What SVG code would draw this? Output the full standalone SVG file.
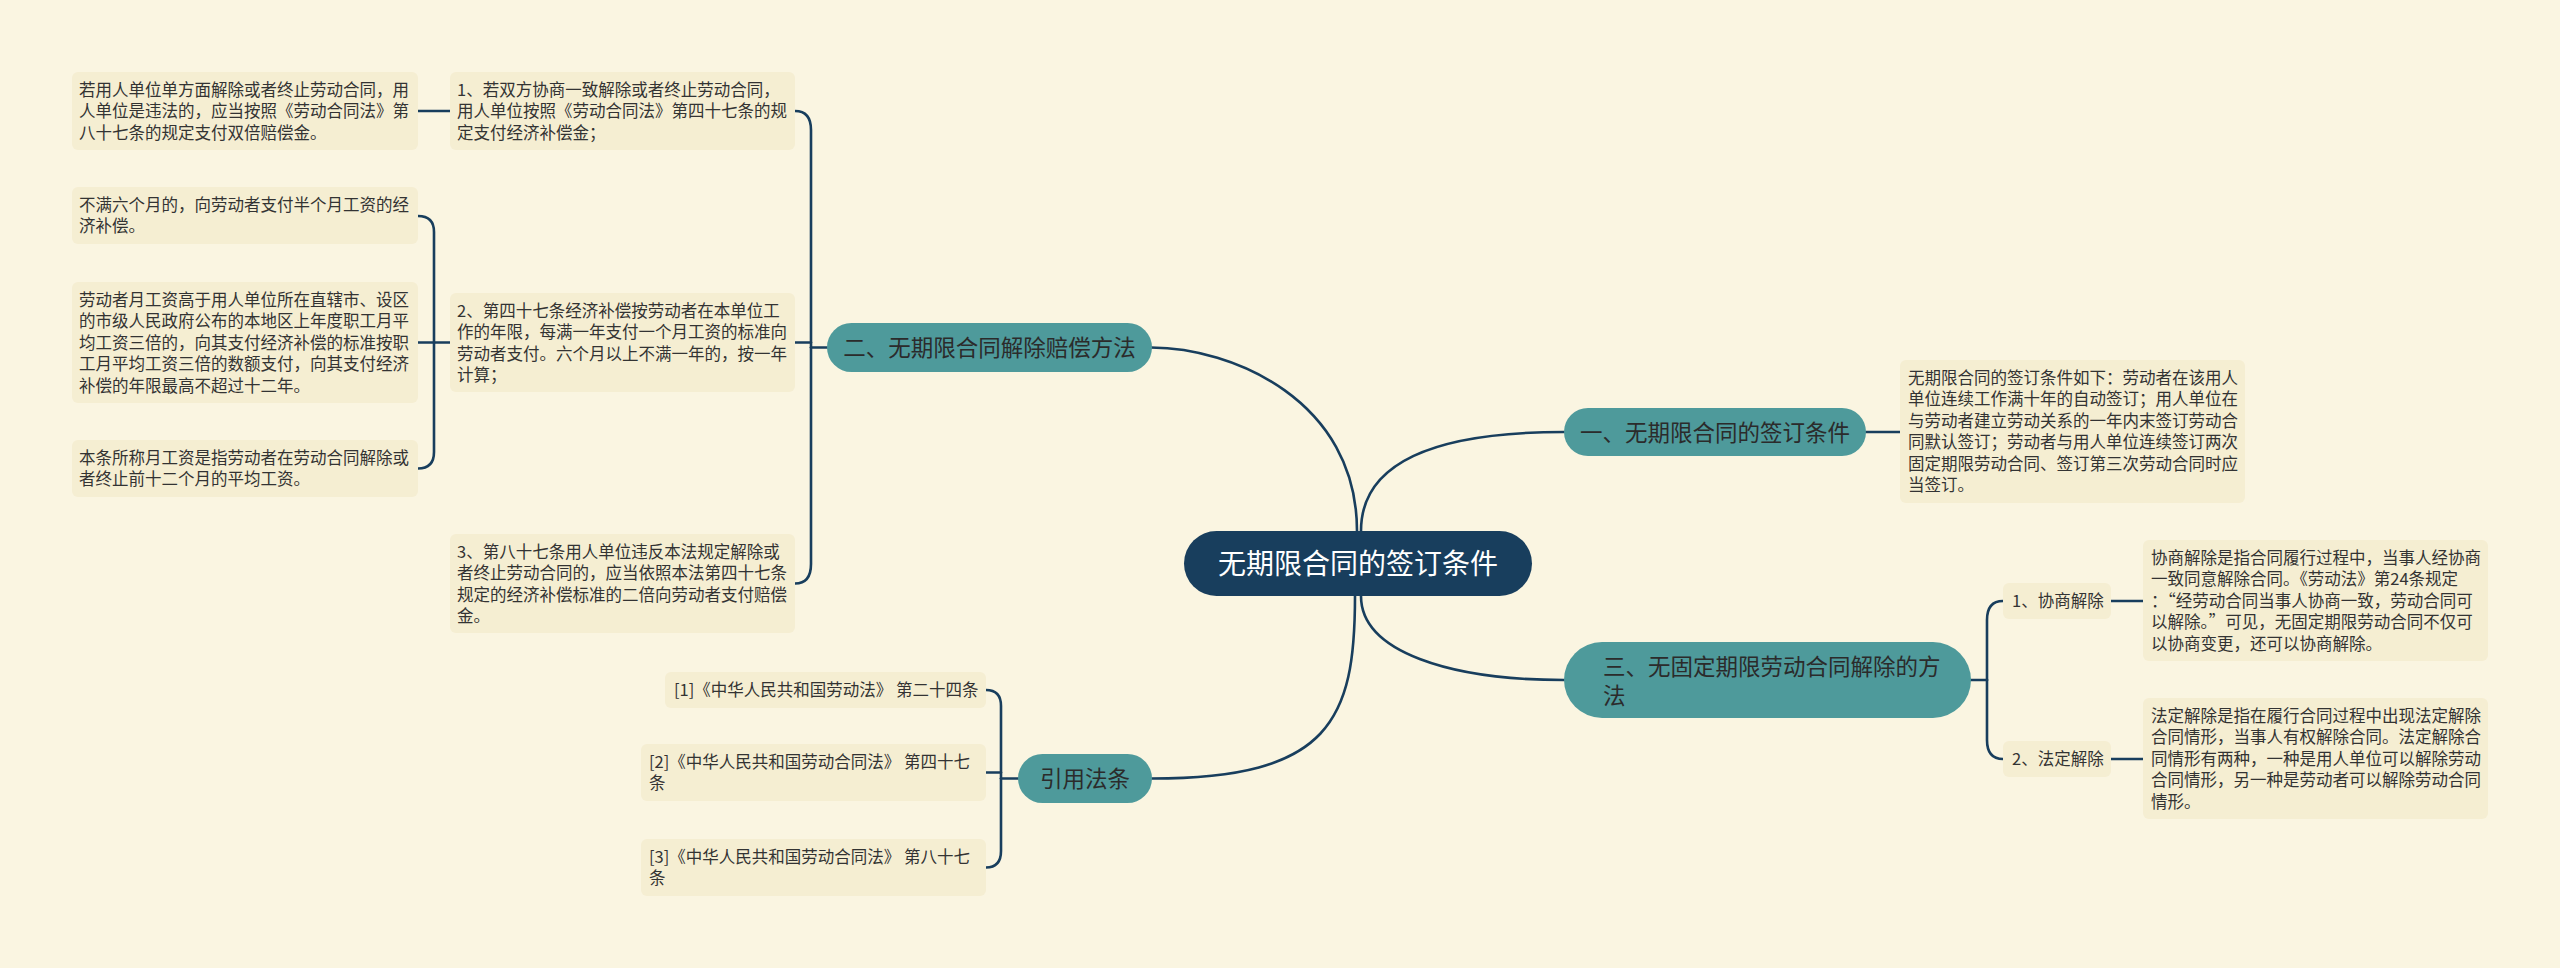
<svg xmlns="http://www.w3.org/2000/svg" width="2560" height="968" viewBox="0 0 2560 968">
<style>
.bg{fill:#faf5e1}
.leaf{fill:#f5eed2}
.br{fill:#4e9a9b}
.root{fill:#183e5d}
.lt{font-family:"Noto Sans CJK SC","Noto Sans",sans-serif;font-size:16.5px;fill:#333333}
.bt{font-family:"Noto Sans CJK SC","Noto Sans",sans-serif;font-size:22.5px;fill:#2b2b2b}
.rt{font-family:"Noto Sans CJK SC","Noto Sans",sans-serif;font-size:28px;fill:#ffffff}
.ln{fill:none;stroke:#183e5d;stroke-width:2.6;stroke-linecap:round}
</style>
<rect class="bg" x="0" y="0" width="2560" height="968"/>
<g id="connectors">
<path class="ln" d="M1151,347.5 C1232,347.5 1357,400 1357,531"/>
<path class="ln" d="M1564,432 C1440,432 1361,460 1361,531"/>
<path class="ln" d="M1361,596 C1361,652 1450,680 1564,680"/>
<path class="ln" d="M1355,596 C1355,720 1330,778.5 1152,778.5"/>
<path class="ln" d="M827,347.5 L811,347.5"/>
<path class="ln" d="M795,111 Q811,111 811,130 L811,347.5"/>
<path class="ln" d="M795,342.5 L811,342.5"/>
<path class="ln" d="M795,583.5 Q811,583.5 811,564 L811,347.5"/>
<path class="ln" d="M450,342.5 L434,342.5"/>
<path class="ln" d="M418,216 Q434,216 434,232 L434,342.5"/>
<path class="ln" d="M418,342.5 L434,342.5"/>
<path class="ln" d="M418,468.5 Q434,468.5 434,452 L434,342.5"/>
<path class="ln" d="M418,111 L450,111"/>
<path class="ln" d="M1018,778.5 L1001,778.5"/>
<path class="ln" d="M986,690 Q1001,690 1001,706 L1001,778.5"/>
<path class="ln" d="M986,772.5 L1001,772.5"/>
<path class="ln" d="M986,867.5 Q1001,867.5 1001,851 L1001,778.5"/>
<path class="ln" d="M1971,680 L1987,680"/>
<path class="ln" d="M2003,601 Q1987,601 1987,620 L1987,680"/>
<path class="ln" d="M2003,759 Q1987,759 1987,740 L1987,680"/>
<path class="ln" d="M1866,432 L1900,432"/>
<path class="ln" d="M2111,601 L2143,601"/>
<path class="ln" d="M2111,759 L2143,759"/>
</g>
<g id="root">
<rect class="root" x="1184" y="531" width="348" height="65" rx="32.5"/>
<text class="rt" x="1358" y="573.5" text-anchor="middle">无期限合同的签订条件</text>
</g>
<g id="b1">
<rect class="br" x="1564" y="408" width="302" height="48" rx="24"/>
<text class="bt" x="1715" y="440.5" text-anchor="middle">一、无期限合同的签订条件</text>
</g>
<g id="b2">
<rect class="br" x="827" y="323" width="325" height="49" rx="24.5"/>
<text class="bt" x="989.5" y="356" text-anchor="middle">二、无期限合同解除赔偿方法</text>
</g>
<g id="b3">
<rect class="br" x="1564" y="642" width="407" height="76" rx="38"/>
<text class="bt" x="1603" y="675">三、无固定期限劳动合同解除的方</text>
<text class="bt" x="1603" y="703.5">法</text>
</g>
<g id="b4">
<rect class="br" x="1018" y="754" width="134" height="49" rx="24.5"/>
<text class="bt" x="1085" y="787" text-anchor="middle">引用法条</text>
</g>
<g id="d1">
<rect class="leaf" x="1900" y="360" width="345" height="143" rx="6"/>
<text class="lt" x="1908" y="383.75">无期限合同的签订条件如下：劳动者在该用人</text>
<text class="lt" x="1908" y="405.25">单位连续工作满十年的自动签订；用人单位在</text>
<text class="lt" x="1908" y="426.75">与劳动者建立劳动关系的一年内末签订劳动合</text>
<text class="lt" x="1908" y="448.25">同默认签订；劳动者与用人单位连续签订两次</text>
<text class="lt" x="1908" y="469.75">固定期限劳动合同、签订第三次劳动合同时应</text>
<text class="lt" x="1908" y="491.25">当签订。</text>
</g>
<g id="m1">
<rect class="leaf" x="450" y="72" width="345" height="78" rx="6"/>
<text class="lt" x="457" y="95.75">1、若双方协商一致解除或者终止劳动合同，</text>
<text class="lt" x="457" y="117.25">用人单位按照《劳动合同法》第四十七条的规</text>
<text class="lt" x="457" y="138.75">定支付经济补偿金；</text>
</g>
<g id="l1">
<rect class="leaf" x="72" y="72" width="346" height="78" rx="6"/>
<text class="lt" x="79" y="95.75">若用人单位单方面解除或者终止劳动合同，用</text>
<text class="lt" x="79" y="117.25">人单位是违法的，应当按照《劳动合同法》第</text>
<text class="lt" x="79" y="138.75">八十七条的规定支付双倍赔偿金。</text>
</g>
<g id="m2">
<rect class="leaf" x="450" y="293" width="345" height="99" rx="6"/>
<text class="lt" x="457" y="316.75">2、第四十七条经济补偿按劳动者在本单位工</text>
<text class="lt" x="457" y="338.25">作的年限，每满一年支付一个月工资的标准向</text>
<text class="lt" x="457" y="359.75">劳动者支付。六个月以上不满一年的，按一年</text>
<text class="lt" x="457" y="381.25">计算；</text>
</g>
<g id="l2">
<rect class="leaf" x="72" y="187" width="346" height="57" rx="6"/>
<text class="lt" x="79" y="210.75">不满六个月的，向劳动者支付半个月工资的经</text>
<text class="lt" x="79" y="232.25">济补偿。</text>
</g>
<g id="l3">
<rect class="leaf" x="72" y="282" width="346" height="121" rx="6"/>
<text class="lt" x="79" y="305.75">劳动者月工资高于用人单位所在直辖市、设区</text>
<text class="lt" x="79" y="327.25">的市级人民政府公布的本地区上年度职工月平</text>
<text class="lt" x="79" y="348.75">均工资三倍的，向其支付经济补偿的标准按职</text>
<text class="lt" x="79" y="370.25">工月平均工资三倍的数额支付，向其支付经济</text>
<text class="lt" x="79" y="391.75">补偿的年限最高不超过十二年。</text>
</g>
<g id="l4">
<rect class="leaf" x="72" y="440" width="346" height="57" rx="6"/>
<text class="lt" x="79" y="463.75">本条所称月工资是指劳动者在劳动合同解除或</text>
<text class="lt" x="79" y="485.25">者终止前十二个月的平均工资。</text>
</g>
<g id="m3">
<rect class="leaf" x="450" y="534" width="345" height="99" rx="6"/>
<text class="lt" x="457" y="557.75">3、第八十七条用人单位违反本法规定解除或</text>
<text class="lt" x="457" y="579.25">者终止劳动合同的，应当依照本法第四十七条</text>
<text class="lt" x="457" y="600.75">规定的经济补偿标准的二倍向劳动者支付赔偿</text>
<text class="lt" x="457" y="622.25">金。</text>
</g>
<g id="r1">
<rect class="leaf" x="665" y="672" width="321" height="36" rx="6"/>
<text class="lt" x="674" y="695.75">[1]《中华人民共和国劳动法》 第二十四条</text>
</g>
<g id="r2">
<rect class="leaf" x="641" y="744" width="345" height="57" rx="6"/>
<text class="lt" x="649" y="767.75">[2]《中华人民共和国劳动合同法》 第四十七</text>
<text class="lt" x="649" y="789.25">条</text>
</g>
<g id="r3">
<rect class="leaf" x="641" y="839" width="345" height="57" rx="6"/>
<text class="lt" x="649" y="862.75">[3]《中华人民共和国劳动合同法》 第八十七</text>
<text class="lt" x="649" y="884.25">条</text>
</g>
<g id="c1">
<rect class="leaf" x="2003" y="583" width="108" height="36" rx="6"/>
<text class="lt" x="2012" y="606.75">1、协商解除</text>
</g>
<g id="c2">
<rect class="leaf" x="2003" y="741" width="108" height="36" rx="6"/>
<text class="lt" x="2012" y="764.75">2、法定解除</text>
</g>
<g id="d2">
<rect class="leaf" x="2143" y="540" width="345" height="121" rx="6"/>
<text class="lt" x="2151" y="563.75">协商解除是指合同履行过程中，当事人经协商</text>
<text class="lt" x="2151" y="585.25">一致同意解除合同。《劳动法》第24条规定</text>
<text class="lt" x="2151" y="606.75">：“经劳动合同当事人协商一致，劳动合同可</text>
<text class="lt" x="2151" y="628.25">以解除。”可见，无固定期限劳动合同不仅可</text>
<text class="lt" x="2151" y="649.75">以协商变更，还可以协商解除。</text>
</g>
<g id="d3">
<rect class="leaf" x="2143" y="698" width="345" height="121" rx="6"/>
<text class="lt" x="2151" y="721.75">法定解除是指在履行合同过程中出现法定解除</text>
<text class="lt" x="2151" y="743.25">合同情形，当事人有权解除合同。法定解除合</text>
<text class="lt" x="2151" y="764.75">同情形有两种，一种是用人单位可以解除劳动</text>
<text class="lt" x="2151" y="786.25">合同情形，另一种是劳动者可以解除劳动合同</text>
<text class="lt" x="2151" y="807.75">情形。</text>
</g>
</svg>
